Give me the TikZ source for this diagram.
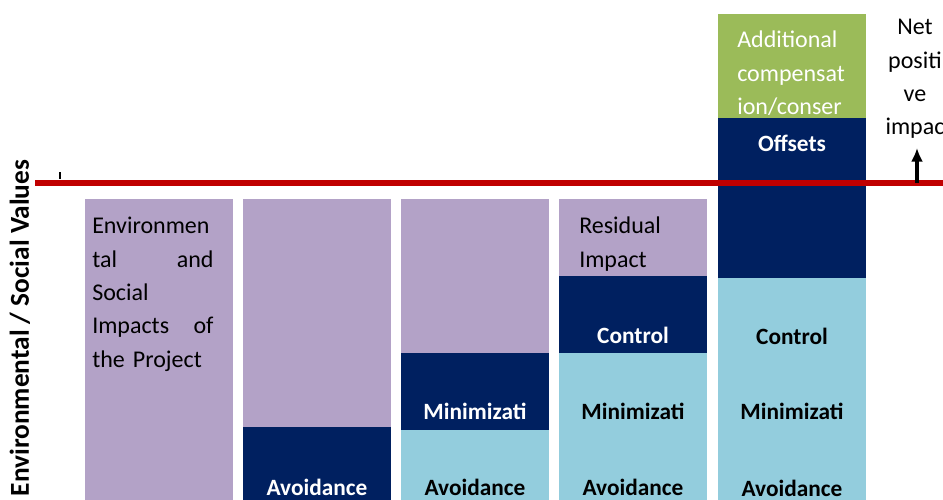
\documentclass[tikz,border=0pt]{standalone}
\usepackage{fontspec}
\setmainfont{Carlito}
\usetikzlibrary{positioning,arrows.meta}
\definecolor{impact}{HTML}{B3A2C7}
\definecolor{navy}{HTML}{002060}
\definecolor{mitig}{HTML}{93CDDD}
\definecolor{extra}{HTML}{9BBB59}
\definecolor{redline}{HTML}{C00000}

\begin{document}
\begin{tikzpicture}[
    x=0.75pt, y=-0.75pt,
    seg/.style={anchor=north west, inner sep=0pt, outer sep=0pt, minimum width=111pt, minimum height=#1*0.75pt},
    stack/.style={inner sep=0pt, outer sep=0pt, minimum width=111pt, minimum height=#1*0.75pt},
    lbl/.style={font=\bfseries\fontsize{17.5}{21}\selectfont, inner sep=0pt},
    txt/.style={font=\fontsize{18}{25}\selectfont, inner sep=0pt, anchor=north west, align=left},
    >={Latex[length=3.6mm, width=3.2mm]}
  ]
    \useasboundingbox (0,0) rectangle (943,500);

    % bars
    \node[seg=301, fill=impact] (barA) at (85,199) {};

    \node[seg=228, fill=impact] (barB) at (243,199) {};
    \node[stack=73, fill=navy, below=0pt of barB] (avB) {};

    \node[seg=154, fill=impact] (barC) at (401,199) {};
    \node[stack=77, fill=navy, below=0pt of barC] (minC) {};
    \node[stack=70, fill=mitig, below=0pt of minC] (avC) {};

    \node[seg=77, fill=impact] (barD) at (559,199) {};
    \node[stack=77, fill=navy, below=0pt of barD] (conD) {};
    \node[stack=147, fill=mitig, below=0pt of conD] (mitD) {};

    \node[seg=104, fill=extra] (barE) at (718,14) {};
    \node[stack=160, fill=navy, below=0pt of barE] (offE) {};
    \node[stack=222, fill=mitig, below=0pt of offE] (mitE) {};

    % texts
    \node[txt, text width=91pt] (impText) at (92,217)
      {Environmen\\tal\hfill and\\Social\\Impacts\hfill of\\the Project};
    \node[txt] (resText) at (579,217) {Residual\\Impact};
    \node[txt, text=white] (addText) at (737,31) {Additional\\compensat\\ion/conser};

    \node[lbl, text=white] (avB1) at (317,487) {Avoidance};
    \node[lbl, text=white] (minC1) at (475,411) {Minimizati};
    \node[lbl] (avC1) at (475,487) {Avoidance};
    \node[lbl, text=white] (conD1) at (633,335) {Control};
    \node[lbl] (minD1) at (633,411) {Minimizati};
    \node[lbl] (avD1) at (633,487) {Avoidance};
    \node[lbl, text=white] (offE1) at (792,143) {Offsets};
    \node[lbl] (conE1) at (792,336) {Control};
    \node[lbl] (minE1) at (792,411) {Minimizati};
    \node[lbl] (avE1) at (792,488) {Avoidance};

    % baseline and axis
    \draw[redline, line width=4.5pt] (35,183) -- (943,183);
    \draw[line width=2.2pt] (60,172) -- (60,179);
    \node[font=\bfseries\fontsize{20.5}{24}\selectfont, rotate=90, inner sep=0pt] (axis) at (20,328)
      {Environmental / Social Values};

    % net positive impact
    \node[font=\fontsize{18}{25}\selectfont, align=center, inner sep=0pt, anchor=north] (net) at (915,19)
      {Net\\positi\\ve\\impac};
    \coordinate (netBase) at (917,183);
    \draw[->, line width=2.4pt] (netBase) -- (917,148);
\end{tikzpicture}
\end{document}
